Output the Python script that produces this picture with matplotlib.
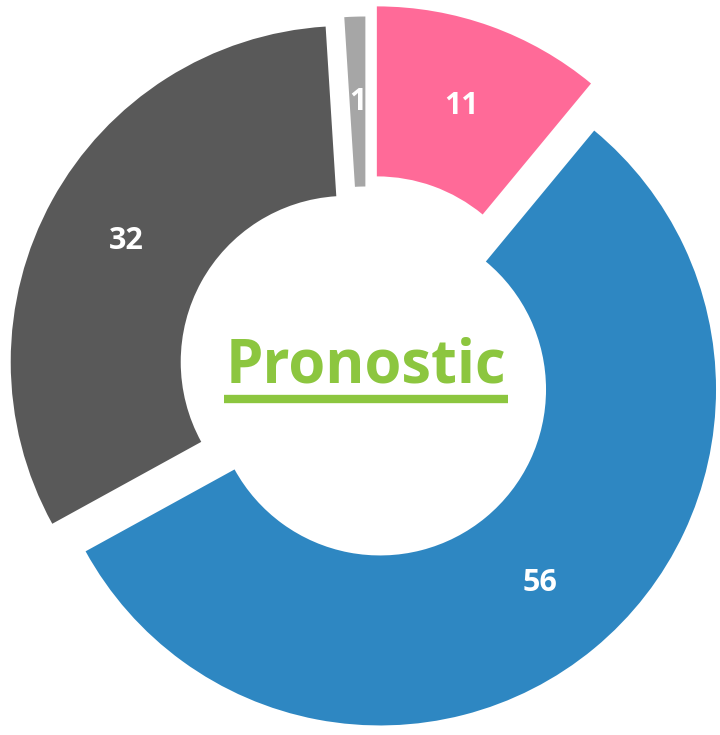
import matplotlib
matplotlib.use("Agg")
import matplotlib.pyplot as plt

# data, clockwise from 12 o'clock
categories = ["Rose", "Bleu", "Gris foncé", "Gris clair"]
values = [11, 56, 32, 1]
colors = ["#FF6A98", "#2E87C2", "#595959", "#A6A6A6"]
explode_px = [32, 22, 22, 20]
title = "Pronostic"

W, H = 720, 735
cx, cy = 366, H - 372.5
R, ring = 336, 170
FONT = ["Open Sans", "DejaVu Sans"]

fig = plt.figure(figsize=(W / 100, H / 100), dpi=100)
ax = fig.add_axes([0, 0, 1, 1])

wedges, texts, autotexts = ax.pie(
    values,
    colors=colors,
    explode=explode_px,
    startangle=90,
    counterclock=False,
    center=(cx, cy),
    radius=R,
    frame=True,
    wedgeprops=dict(width=ring, linewidth=0),
    autopct=lambda p: f"{p:.0f}",
    pctdistance=(R - ring / 2) / R,
    textprops=dict(color="white", fontsize=22, fontweight="bold",
                   family=FONT),
)

ax.set_xlim(0, W)
ax.set_ylim(0, H)
ax.set_aspect("equal")
ax.axis("off")

# centre title, underlined
t = ax.text(cx, H - 382, title, ha="center", va="baseline",
            fontsize=43, fontweight="bold", color="#8CC63F", family=FONT)
fig.canvas.draw()
bb = t.get_window_extent().transformed(ax.transData.inverted())
ax.plot([bb.x0 - 2, bb.x1 + 2], [H - 399, H - 399], color="#8CC63F",
        linewidth=6, solid_capstyle="butt")

fig.savefig("out.png", dpi=100)
